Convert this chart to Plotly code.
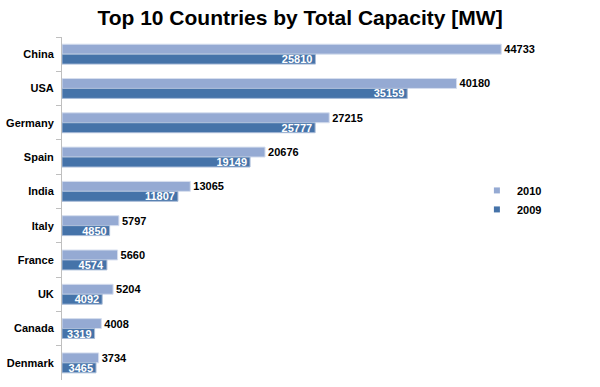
import plotly.graph_objects as go

countries = ["China", "USA", "Germany", "Spain", "India", "Italy", "France", "UK", "Canada", "Denmark"]
cap_2010 = [44733, 40180, 27215, 20676, 13065, 5797, 5660, 5204, 4008, 3734]
cap_2009 = [25810, 35159, 25777, 19149, 11807, 4850, 4574, 4092, 3319, 3465]

FONT = "Liberation Sans, Arial, sans-serif"
C2010 = "#95AAD3"
C2009 = "#4573A9"

fig = go.Figure()
fig.add_trace(go.Bar(
    y=countries, x=cap_2010, name="2010", orientation="h",
    marker=dict(color=C2010, line=dict(color="#D6DEEE", width=1)),
    text=[str(v) for v in cap_2010], textposition="outside",
    textfont=dict(family=FONT, size=11, color="black", weight="bold"),
    cliponaxis=False, showlegend=False,
))
fig.add_trace(go.Bar(
    y=countries, x=cap_2009, name="2009", orientation="h",
    marker=dict(color=C2009, line=dict(color="#A9BCD8", width=1)),
    text=[str(v) for v in cap_2009], textposition="inside", insidetextanchor="end",
    textfont=dict(family=FONT, size=11, color="white", weight="bold"),
    showlegend=False,
))
# legend entries with small square markers
for name, col in (("2010", C2010), ("2009", C2009)):
    fig.add_trace(go.Scatter(
        x=[None], y=[None], mode="markers", name=name,
        marker=dict(symbol="square", size=6, color=col),
    ))

fig.update_layout(
    width=600, height=387,
    margin=dict(l=62, r=47, t=37, b=7),
    paper_bgcolor="white", plot_bgcolor="white",
    barmode="group", bargap=0.42, bargroupgap=0,
    uniformtext=dict(minsize=11, mode="show"),
    title=dict(text="<b>Top 10 Countries by Total Capacity [MW]</b>",
               x=0.5, xanchor="center", y=1 - 18 / 387, yanchor="middle",
               automargin=False,
               font=dict(family=FONT, size=21, color="black")),
    showlegend=True,
    legend=dict(x=0.845, y=0.525, xanchor="left", yanchor="middle",
                font=dict(family=FONT, size=11, color="black", weight="bold"),
                bgcolor="rgba(0,0,0,0)", itemwidth=30, tracegroupgap=0,
                itemsizing="trace"),
    xaxis=dict(range=[0, 50000], visible=False, showgrid=False, zeroline=False,
               automargin=False),
    yaxis=dict(autorange="reversed", showline=True, linecolor="#BFBFBF", linewidth=1,
               ticks="outside", tickson="boundaries", ticklen=5, tickcolor="#BFBFBF",
               ticklabelstandoff=5,
               showgrid=False, zeroline=False, automargin=False,
               tickfont=dict(family=FONT, size=11, color="black", weight="bold")),
)

fig.write_html("out.html", config={"displayModeBar": False},
               post_script="document.body.style.margin='0px';")
